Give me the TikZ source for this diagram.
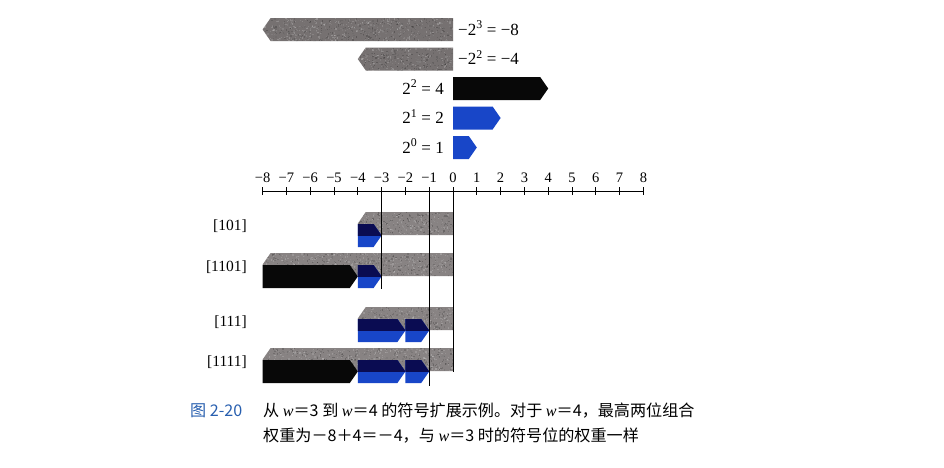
\documentclass[tikz,border=0pt]{standalone}
\usepackage{fontspec}
\setmainfont{Liberation Serif}
\newfontfamily\cjk{Noto Sans CJK SC}
\definecolor{bargray}{RGB}{136,131,131}
\definecolor{bargraydark}{RGB}{118,113,113}
\definecolor{barblue}{RGB}{24,70,200}
\definecolor{barnavy}{RGB}{10,12,82}
\definecolor{barblack}{RGB}{8,8,8}
\definecolor{capblue}{RGB}{40,95,175}
\newcommand{\XX}[1]{453+23.8*(#1)}
\newcommand{\lpath}[3]{({\XX{#1}},{#3}) -- ({\XX{#2}+8},{#3}) -- ({\XX{#2}},{#3+11.5}) -- ({\XX{#2}+8},{#3+23}) -- ({\XX{#1}},{#3+23}) -- cycle}
\newcommand{\rpath}[3]{({\XX{#1}},{#3}) -- ({\XX{#2}-8},{#3}) -- ({\XX{#2}},{#3+11.5}) -- ({\XX{#2}-8},{#3+23}) -- ({\XX{#1}},{#3+23}) -- cycle}
% gray left-pointing bar: from #1 (flat) to tip #2, top #3, colour #4
\newcommand{\graybar}[4]{%
  \fill[#4] \lpath{#1}{#2}{#3};
  \begin{scope}
    \clip \lpath{#1}{#2}{#3};
    \pgfmathtruncatemacro\nn{110*((#1)-(#2))}
    \foreach \k in {1,...,\nn}{%
      \pgfmathsetmacro\sx{\XX{#2}+rnd*23.8*((#1)-(#2))}
      \pgfmathsetmacro\sy{#3+rnd*23}
      \pgfmathtruncatemacro\sc{rnd*100}
      \fill[white!\sc!black, opacity=0.22] (\sx,\sy) rectangle ++(1.3,1.3);
    }
  \end{scope}}
% coloured right-pointing bar in a row: from #1 to tip #2, top #3, colour #4, navy overlay if #5=1
\newcommand{\rowbar}[5]{%
  \fill[#4] \rpath{#1}{#2}{#3};
  \ifnum#5=1
  \begin{scope}
    \clip (0,{#3}) rectangle (944,{#3+11});
    \fill[barnavy] \rpath{#1}{#2}{#3};
  \end{scope}
  \fi}
\tikzset{
  toplabel/.style={font=\fontsize{17}{20}\selectfont, inner sep=0pt},
  axislabel/.style={font=\fontsize{14.5}{17}\selectfont, inner sep=0pt, anchor=base},
  rowlabel/.style={font=\fontsize{15.5}{18}\selectfont, inner sep=0pt, anchor=east},
  captext/.style={font=\cjk\fontsize{16.1}{19}\selectfont, inner sep=0pt, anchor=base west},
  guide/.style={line width=0.9pt, black}
}
\begin{document}
\begin{tikzpicture}[x=1pt,y=-1pt]
\pgfmathsetseed{7}
\useasboundingbox[fill=white] (0,0) rectangle (944,467);

% ---- top bars ----
\graybar{0}{-8}{18}{bargraydark}
\graybar{0}{-4}{47.5}{bargraydark}
\fill[barblack] \rpath{0}{4}{77};
\fill[barblue] \rpath{0}{2}{106.5};
\fill[barblue] \rpath{0}{1}{136};

\node[toplabel, anchor=base west] (l8) at (458,35) {−2\textsuperscript{3} = −8};
\node[toplabel, anchor=base west] (l4) at (458,64.5) {−2\textsuperscript{2} = −4};
\node[toplabel, anchor=base east] (p4) at (444,94) {2\textsuperscript{2} = 4};
\node[toplabel, anchor=base east] (p2) at (444,123.5) {2\textsuperscript{1} = 2};
\node[toplabel, anchor=base east] (p1) at (444,153) {2\textsuperscript{0} = 1};

% ---- axis ----
\coordinate (axL) at ({\XX{-8}},191);
\coordinate (axR) at ({\XX{8}},191);
\draw[line width=0.8pt] (axL) -- (axR);
\foreach \v in {-8,...,8}{
  \draw[line width=0.8pt] ({\XX{\v}},187) -- ({\XX{\v}},195);
}
\foreach \v/\t in {-8/−8,-7/−7,-6/−6,-5/−5,-4/−4,-3/−3,-2/−2,-1/−1,0/0,1/1,2/2,3/3,4/4,5/5,6/6,7/7,8/8}{
  \node[axislabel] (n\v) at ({\XX{\v}},182) {\t};
}

% ---- rows ----
% [101]
\graybar{0}{-4}{212}{bargray}
\rowbar{-4}{-3}{224}{barblue}{1}
% [1101]
\graybar{0}{-8}{253}{bargray}
\rowbar{-8}{-4}{265}{barblack}{0}
\rowbar{-4}{-3}{265}{barblue}{1}
% [111]
\graybar{0}{-4}{307}{bargray}
\rowbar{-4}{-2}{319}{barblue}{1}
\rowbar{-2}{-1}{319}{barblue}{1}
% [1111]
\graybar{0}{-8}{348}{bargray}
\rowbar{-8}{-4}{360}{barblack}{0}
\rowbar{-4}{-2}{360}{barblue}{1}
\rowbar{-2}{-1}{360}{barblue}{1}

\node[rowlabel] (r1) at (247,226) {[101]};
\node[rowlabel] (r2) at (247,267.5) {[1101]};
\node[rowlabel] (r3) at (247,322.5) {[111]};
\node[rowlabel] (r4) at (247,362.5) {[1111]};

% ---- guide lines ----
\coordinate (gA) at ({\XX{-3}},187);
\coordinate (gAe) at ({\XX{-3}},289);
\coordinate (gB) at ({\XX{-1}},187);
\coordinate (gBe) at ({\XX{-1}},386);
\coordinate (gC) at ({\XX{0}},187);
\coordinate (gCe) at ({\XX{0}},372);
\draw[guide] (gA) -- (gAe);
\draw[guide] (gB) -- (gBe);
\draw[guide] (gC) -- (gCe);

% ---- caption ----
\node[captext, text=capblue] (fig) at (190,416) {图 2-20};
\node[captext] (cap1) at (263,416) {从 {\rmfamily\itshape w}＝3 到 {\rmfamily\itshape w}＝4 的符号扩展示例。对于 {\rmfamily\itshape w}＝4，最高两位组合};
\node[captext] (cap2) at (263,441) {权重为－8＋4＝－4，与 {\rmfamily\itshape w}＝3 时的符号位的权重一样};
\end{tikzpicture}
\end{document}
